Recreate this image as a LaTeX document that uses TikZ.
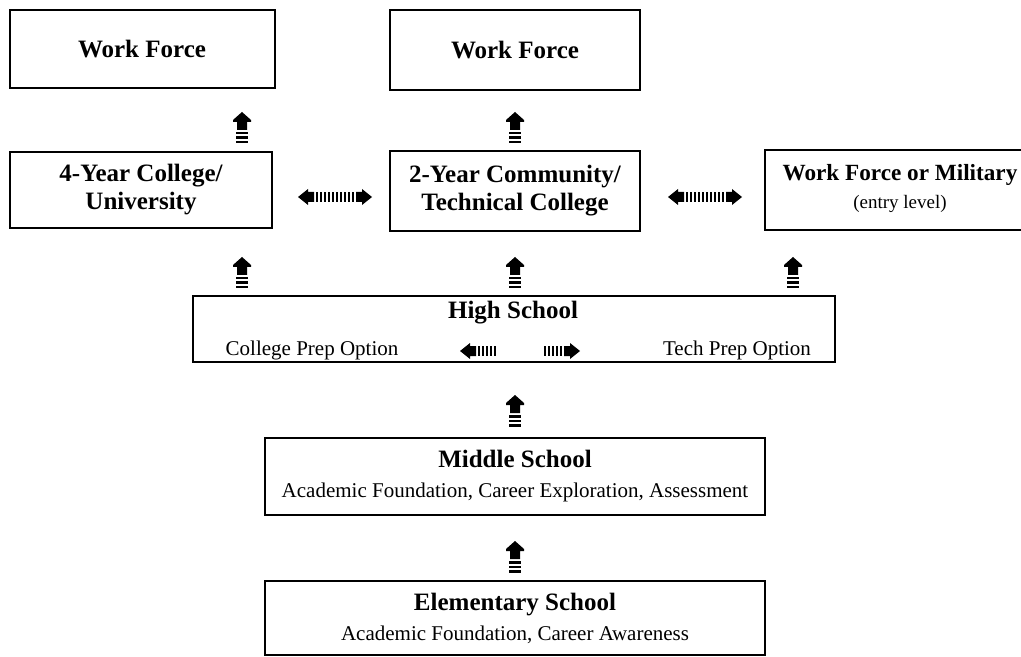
\documentclass[tikz,border=0pt]{standalone}
\usepackage{fontspec}
\setmainfont{Liberation Serif}
\usetikzlibrary{positioning}

\newcommand{\titlefont}{\bfseries\fontsize{12.5}{14}\selectfont}
\newcommand{\subfont}{\mdseries\fontsize{10.5}{12}\selectfont}

\tikzset{
  box/.style={draw, line width=1pt, inner sep=0pt, align=center, font=\titlefont},
  lbl/.style={inner sep=0pt, font=\subfont},
  % block arrow pointing up, striped tail
  fatup/.pic={
    \fill (0,-18) -- (9,-10) -- (9,-8) -- (5,-8) -- (5,0) -- (-5,0) -- (-5,-8) -- (-9,-8) -- (-9,-10) -- cycle;
    \foreach \s in {2,6.5,11} \fill (-6,\s) rectangle (6,\s+2.5);
  },
  % block arrow pointing both ways, striped middle
  fatboth/.pic={
    \fill (-37,0) -- (-27,-8) -- (-27,-5) -- (-21,-5) -- (-21,5) -- (-27,5) -- (-27,8) -- cycle;
    \fill (37,0) -- (27,-8) -- (27,-5) -- (21,-5) -- (21,5) -- (27,5) -- (27,8) -- cycle;
    \foreach \s in {-19,-15,...,17} \fill (\s,-5) rectangle (\s+2,5);
  },
  fatleft/.pic={
    \fill (-19,0) -- (-9,-8) -- (-9,-5) -- (-3,-5) -- (-3,5) -- (-9,5) -- (-9,8) -- cycle;
    \foreach \s in {-1,3,...,15} \fill (\s,-5) rectangle (\s+2,5);
  },
  fatright/.pic={
    \fill (19,0) -- (9,-8) -- (9,-5) -- (3,-5) -- (3,5) -- (9,5) -- (9,8) -- cycle;
    \foreach \s in {-17,-13,...,-1} \fill (\s,-5) rectangle (\s+2,5);
  }
}

\begin{document}
\begin{tikzpicture}[x=0.5pt, y=-0.5pt]
  \useasboundingbox (0,0) rectangle (1021,657);
  \clip (0,0) rectangle (1021,657);

  % top row
  \node[box, minimum width=132.5pt, minimum height=39pt] (wfleft) at (142,49) {Work Force};
  \node[box, minimum width=125pt, minimum height=40pt] (wfmid) at (515,50) {Work Force};

  % second row
  \node[box, minimum width=131pt, minimum height=38pt] (univ) at (141,190) {4-Year College/\\University};
  \node[box, minimum width=125pt, minimum height=40pt] (comm) at (515,191) {2-Year Community/\\Technical College};
  \node[box, minimum width=133pt, minimum height=40pt] (mil) at (898,190) {};
  \node[inner sep=0pt, align=center, font=\bfseries\fontsize{11.6}{13}\selectfont] (miltext) at (900,189)
    {Work Force or Military\\[1pt]{\fontsize{9.5}{11}\mdseries\selectfont (entry level)}};

  % high school
  \node[box, minimum width=321pt, minimum height=33pt] (hs) at (514,329) {};
  \node[font=\titlefont, inner sep=0pt] (hstitle) at (513,313) {High School};
  \node[lbl] (cprep) at (312,350) {College Prep Option};
  \node[lbl] (tprep) at (737,350) {Tech Prep Option};

  % middle and elementary
  \node[box, minimum width=250pt, minimum height=38.5pt] (ms) at (515,476)
    {Middle School\\[1pt]{\subfont Academic Foundation, Career Exploration, Assessment}};
  \node[box, minimum width=250pt, minimum height=37pt] (es) at (515,618)
    {Elementary School\\[1pt]{\subfont Academic Foundation, Career Awareness}};

  % block arrows
  \foreach \x in {242,515} \pic at (\x,130) {fatup};
  \foreach \x in {242,515,793} \pic at (\x,275) {fatup};
  \pic at (515,413) {fatup};
  \pic at (515,559) {fatup};
  \pic at (335,197) {fatboth};
  \pic at (705,197) {fatboth};
  \pic at (479,351) {fatleft};
  \pic at (561,351) {fatright};
\end{tikzpicture}
\end{document}
